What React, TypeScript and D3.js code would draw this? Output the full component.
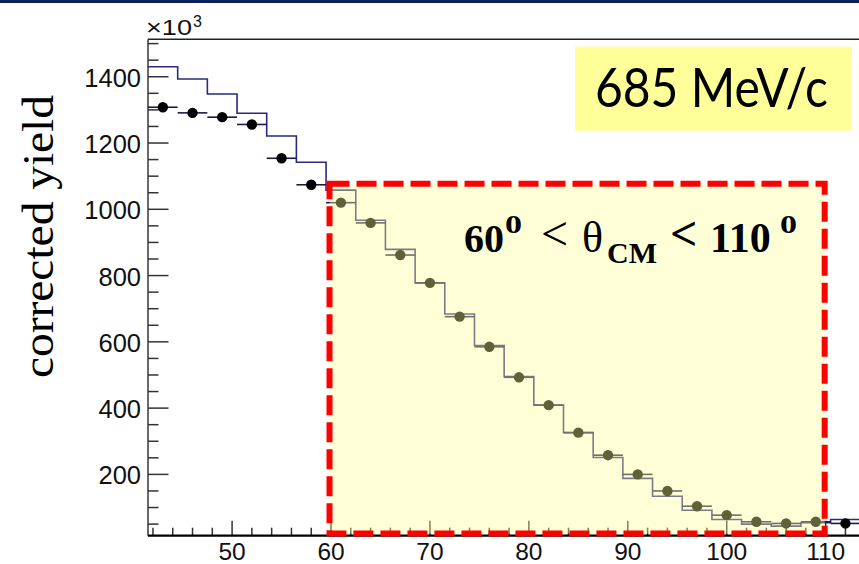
import React from 'react';
import * as d3 from 'd3';

const W = 859;
const H = 564;

// Angular bins (degrees), 3° wide
const binCenters = [43, 46, 49, 52, 55, 58, 61, 64, 67, 70, 73, 76, 79, 82, 85, 88, 91, 94, 97, 100, 103, 106, 109, 112];
const binWidth = 3;
// Corrected yield, in units of 10^3
const measuredYield = [1308, 1291, 1278, 1256, 1154, 1074, 1020, 959, 862, 778, 676, 585, 493, 409, 326, 258, 200, 150, 104, 77, 57, 52, 57, 52];
const simulatedYield = [1430, 1393, 1348, 1290, 1221, 1142, 1058, 967, 879, 778, 684, 589, 495, 409, 326, 251, 188, 134, 92, 64, 50, 44, 54, 64];

const yTickValues = [200, 400, 600, 800, 1000, 1200, 1400];
const xTickValues = [50, 60, 70, 80, 90, 100, 110];

// Highlighted angular window and its yield extent
const windowFrom = 60;
const windowTo = 110;
const windowYieldTop = 1077;
const windowYieldBottom = 22;

const momentumLabel = '685 MeV/c';
const yAxisTitle = 'corrected yield';

const sans = '"Liberation Sans", Arial, Helvetica, sans-serif';
const serif = '"Liberation Serif", "Times New Roman", Times, serif';

export default function App() {
  const frame = { left: 148, right: 860.3, top: 39.3, bottom: 535.7 };
  const x = d3.scaleLinear().domain([41.5, 113.5]).range([frame.left, frame.right]);
  const y = d3.scaleLinear().domain([15, 1513]).range([frame.bottom, frame.top]);

  const histPoints: [number, number][] = binCenters.map((c, i) => [c - binWidth / 2, simulatedYield[i]]);
  histPoints.push([binCenters[binCenters.length - 1] + binWidth / 2, simulatedYield[simulatedYield.length - 1]]);
  const histLine = d3
    .line<[number, number]>()
    .x((d) => x(d[0]))
    .y((d) => y(d[1]))
    .curve(d3.curveStepAfter);

  const yMinor = d3.range(50, 1513, 50).filter((v) => v % 200 !== 0);
  const xMinor = d3.range(42, 113.5, 2).filter((v) => v % 10 !== 0);

  const bx0 = x(windowFrom) - 1.5;
  const bx1 = x(windowTo) - 1;
  const by0 = y(windowYieldTop);
  const by1 = y(windowYieldBottom);

  return (
    <svg
      width={W}
      height={H}
      viewBox={`0 0 ${W} ${H}`}
      style={{ position: 'fixed', left: 0, top: 0, background: '#fff' }}
    >
      <rect x={0} y={0} width={W} height={3} fill="#0b1f5a" />

      {/* frame */}
      <line x1={frame.left} x2={W} y1={frame.top} y2={frame.top} stroke="#222" strokeWidth={1.6} />
      <line x1={frame.left} x2={frame.left} y1={frame.top} y2={frame.bottom} stroke="#444" strokeWidth={1.6} />

      {/* y ticks */}
      {yTickValues.map((v) => (
        <g key={`ym${v}`}>
          <line x1={frame.left} x2={frame.left + 20.5} y1={y(v)} y2={y(v)} stroke="#333" strokeWidth={1.5} />
          <text x={141} y={y(v) + 10} textAnchor="end" fontFamily={sans} fontSize={25.5} fill="#111">
            {v}
          </text>
        </g>
      ))}
      {yMinor.map((v) => (
        <line key={`yn${v}`} x1={frame.left} x2={frame.left + 10.5} y1={y(v)} y2={y(v)} stroke="#333" strokeWidth={1.5} />
      ))}

      {/* x ticks */}
      {xTickValues.map((v) => (
        <g key={`xm${v}`}>
          <line x1={x(v)} x2={x(v)} y1={frame.bottom} y2={frame.bottom - 15} stroke="#333" strokeWidth={1.5} />
          <text x={x(v)} y={559.5} textAnchor="middle" fontFamily={sans} fontSize={24.5} fill="#111">
            {v}
          </text>
        </g>
      ))}
      {xMinor.map((v) => (
        <line key={`xn${v}`} x1={x(v)} x2={x(v)} y1={frame.bottom} y2={frame.bottom - 8} stroke="#333" strokeWidth={1.5} />
      ))}

      <text fontFamily={sans} fill="#111">
        <tspan x={146} y={35} fontSize={22} textLength={46} lengthAdjust="spacingAndGlyphs">×10</tspan>
        <tspan x={193} y={26.5} fontSize={16}>3</tspan>
      </text>

      {/* y axis title */}
      <text
        transform={`translate(53, 236.5) rotate(-90)`}
        textAnchor="middle"
        fontFamily={serif}
        fontSize={45}
        textLength={283}
        lengthAdjust="spacingAndGlyphs"
        fill="#000"
      >
        {yAxisTitle}
      </text>

      {/* simulated histogram */}
      <path d={histLine(histPoints) || ''} fill="none" stroke="#2a2a7e" strokeWidth={1.6} />

      {/* measured points with bin-width bars */}
      {binCenters.map((c, i) => (
        <g key={`p${c}`}>
          <line
            x1={x(c - binWidth / 2)}
            x2={x(c + binWidth / 2)}
            y1={y(measuredYield[i])}
            y2={y(measuredYield[i])}
            stroke="#1a1a50"
            strokeWidth={1.6}
          />
          <circle cx={x(c)} cy={y(measuredYield[i])} r={5.2} fill="#000" />
        </g>
      ))}

      <line x1={frame.left} x2={W} y1={frame.bottom} y2={frame.bottom} stroke="#000" strokeWidth={2.2} />

      {/* highlighted angular window */}
      <rect
        x={bx0}
        y={by0}
        width={bx1 - bx0}
        height={by1 - by0}
        fill="rgba(255,255,150,0.38)"
        stroke="#ff0000"
        strokeWidth={6}
        strokeDasharray="20 7"
      />

      <text fontFamily={serif} fontWeight="bold" fill="#000">
        <tspan x={464} y={251.7} fontSize={40}>60</tspan>
        <tspan x={505} y={233} fontSize={26} textLength={17} lengthAdjust="spacingAndGlyphs">0</tspan>
        <tspan x={541} y={250} fontSize={48} fontWeight="normal">{'<'}</tspan>
        <tspan x={582} y={251.7} fontSize={44} fontWeight="normal">θ</tspan>
        <tspan x={607} y={262.7} fontSize={30}>CM</tspan>
        <tspan x={670} y={250} fontSize={48}>{'<'}</tspan>
        <tspan x={710} y={251.7} fontSize={42}>110</tspan>
        <tspan x={780} y={233} fontSize={26} textLength={17} lengthAdjust="spacingAndGlyphs">0</tspan>
      </text>

      {/* beam momentum tag */}
      <rect x={575} y={46.7} width={277} height={84} fill="#ffff99" />
      <text
        x={595}
        y={107}
        fontFamily='Lato, "Open Sans", sans-serif'
        fontSize={54}
        textLength={233}
        lengthAdjust="spacingAndGlyphs"
        fill="#000"
      >
        {momentumLabel}
      </text>
    </svg>
  );
}
